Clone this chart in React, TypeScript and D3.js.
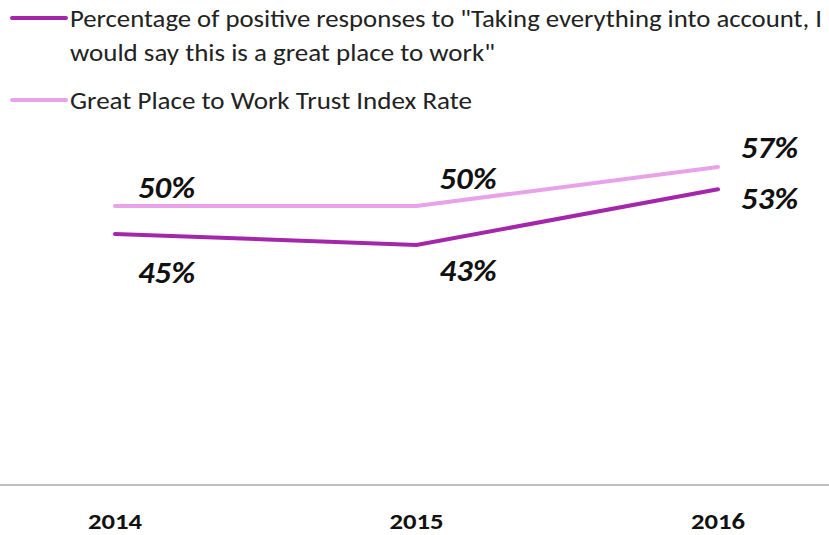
import React from "react";
import * as d3 from "d3";

const years = ["2014", "2015", "2016"];
const positiveResponses = [45, 43, 53];
const trustIndex = [50, 50, 57];
const seriesNames = [
  'Percentage of positive responses to "Taking everything into account, I',
  'would say this is a great place to work"',
];
const trustName = "Great Place to Work Trust Index Rate";

const W = 829;
const H = 535;

export default function App() {
  const x = d3.scalePoint<string>().domain(years).range([115, 718]);
  const y = d3.scaleLinear().domain([0, 80]).range([485, 38.6]);
  const line = d3
    .line<number>()
    .x((_, i) => x(years[i]) as number)
    .y((d) => y(d));

  const dark = "#a426aa";
  const light = "#e8a2ea";
  const labelFont = "Carlito, 'Liberation Sans', Arial, sans-serif";

  // label offsets (dx, baseline dy) relative to point
  const posOff = [
    [23, 49],
    [23, 36],
    [23, 20],
  ];
  const trustOff = [
    [23, -8],
    [23, -17],
    [23, -9],
  ];

  return (
    <svg width={W} height={H} style={{ position: "absolute", left: 0, top: 0 }}>
      <rect width={W} height={H} fill="#fff" />
      {/* legend */}
      <line x1={12} x2={66} y1={18} y2={18} stroke={dark} strokeWidth={4} strokeLinecap="round" />
      <text x={70} y={27} fontFamily={labelFont} fontSize={25} fill="#222" textLength={752} lengthAdjust="spacingAndGlyphs">
        {seriesNames[0]}
      </text>
      <text x={70} y={61} fontFamily={labelFont} fontSize={25} fill="#222" textLength={425} lengthAdjust="spacingAndGlyphs">
        {seriesNames[1]}
      </text>
      <line x1={12} x2={66} y1={100} y2={100} stroke={light} strokeWidth={4} strokeLinecap="round" />
      <text x={70} y={109} fontFamily={labelFont} fontSize={25} fill="#222" textLength={402} lengthAdjust="spacingAndGlyphs">
        {trustName}
      </text>

      {/* axis */}
      <line x1={0} x2={W} y1={y(0)} y2={y(0)} stroke="#bfbfbf" strokeWidth={2} />
      {years.map((yr) => (
        <text
          key={yr}
          x={x(yr)}
          y={529}
          textAnchor="middle"
          fontFamily={labelFont}
          fontWeight="bold"
          fontSize={22}
          fill="#111"
          textLength={54}
          lengthAdjust="spacingAndGlyphs"
        >
          {yr}
        </text>
      ))}

      {/* lines */}
      <path d={line(trustIndex) || ""} fill="none" stroke={light} strokeWidth={4} strokeLinecap="round" />
      <path d={line(positiveResponses) || ""} fill="none" stroke={dark} strokeWidth={4} strokeLinecap="round" />

      {/* data labels */}
      {trustIndex.map((v, i) => (
        <text
          key={"t" + i}
          x={(x(years[i]) as number) + trustOff[i][0]}
          y={y(v) + trustOff[i][1]}
          fontFamily={labelFont}
          fontWeight="bold"
          fontStyle="italic"
          fontSize={31}
          fill="#111"
          textLength={57}
          lengthAdjust="spacingAndGlyphs"
        >
          {v}%
        </text>
      ))}
      {positiveResponses.map((v, i) => (
        <text
          key={"p" + i}
          x={(x(years[i]) as number) + posOff[i][0]}
          y={y(v) + posOff[i][1]}
          fontFamily={labelFont}
          fontWeight="bold"
          fontStyle="italic"
          fontSize={31}
          fill="#111"
          textLength={57}
          lengthAdjust="spacingAndGlyphs"
        >
          {v}%
        </text>
      ))}
    </svg>
  );
}
